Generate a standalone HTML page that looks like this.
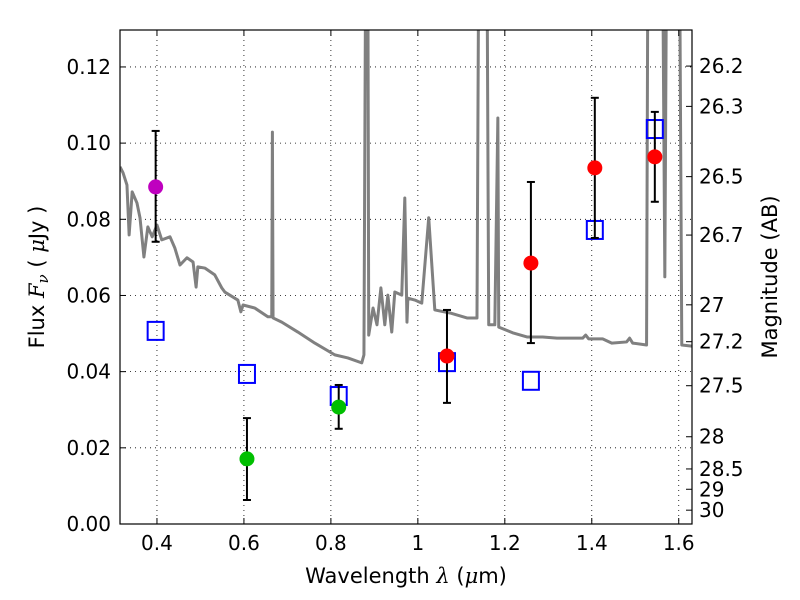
<!DOCTYPE html>
<html><head><meta charset="utf-8"><style>
body{margin:0;background:#fff;}
svg{display:block;font-family:"DejaVu Sans","Liberation Sans",sans-serif;}
</style></head><body>
<svg id="chart" width="800" height="600"></svg>
<script>
const specWave=[0.315,0.322,0.331,0.336,0.343,0.354,0.361,0.370,0.379,0.389,0.400,0.411,0.430,0.441,0.453,0.469,0.483,0.490,0.494,0.510,0.533,0.549,0.556,0.586,0.593,0.598,0.625,0.655,0.664,0.6655,0.667,0.687,0.724,0.763,0.809,0.839,0.871,0.876,0.880,0.885,0.887,0.897,0.906,0.915,0.924,0.931,0.940,0.947,0.963,0.970,0.975,0.977,0.993,1.009,1.025,1.039,1.074,1.113,1.136,1.140,1.159,1.163,1.177,1.184,1.186,1.218,1.251,1.287,1.320,1.379,1.386,1.393,1.425,1.446,1.480,1.487,1.494,1.526,1.529,1.563,1.568,1.572,1.602,1.607,1.630];
const specFlux=[0.0938,0.0922,0.0890,0.0759,0.0872,0.0843,0.0804,0.0701,0.0780,0.0754,0.0785,0.0746,0.0754,0.0725,0.0680,0.0699,0.0688,0.0622,0.0675,0.0672,0.0654,0.0620,0.0609,0.0588,0.0557,0.0575,0.0567,0.0544,0.0544,0.1029,0.0541,0.0530,0.0504,0.0475,0.0444,0.0436,0.0423,0.0444,0.15,0.15,0.0496,0.0567,0.0523,0.0620,0.0523,0.0601,0.0504,0.0609,0.0601,0.0856,0.0530,0.0593,0.0588,0.0580,0.0804,0.0562,0.0554,0.0541,0.0541,0.15,0.15,0.0523,0.0523,0.1066,0.0517,0.0502,0.0491,0.0491,0.0488,0.0488,0.0496,0.0486,0.0486,0.0475,0.0478,0.0488,0.0475,0.0470,0.15,0.15,0.0649,0.15,0.15,0.0470,0.0467];
const obsWave=[0.397,0.607,0.818,1.067,1.260,1.407,1.545];
const obsFlux=[0.0885,0.0171,0.0307,0.0441,0.0685,0.0935,0.0964];
const obsHi=[0.1032,0.0278,0.0365,0.0562,0.0898,0.1119,0.1082];
const obsLo=[0.0741,0.0063,0.0250,0.0318,0.0475,0.0751,0.0846];
const obsColor=["#bf00bf","#00bf00","#00bf00","#ff0000","#ff0000","#ff0000","#ff0000"];
const modelFlux=[0.0507,0.0394,0.0336,0.0425,0.0376,0.0772,0.1037];
const xTicks=[0.4,0.6,0.8,1.0,1.2,1.4,1.6];
const xTickLabels=["0.4","0.6","0.8","1","1.2","1.4","1.6"];
const yTicks=[0,0.02,0.04,0.06,0.08,0.10,0.12];
const yTickLabels=["0.00","0.02","0.04","0.06","0.08","0.10","0.12"];
const magTicks=[26.2,26.3,26.5,26.7,27,27.2,27.5,28,28.5,29,30];

const L=120,R=692,T=30,B=524,xmin=0.315,xmax=1.6305,ymin=0,ymax=0.1297;
const X=v=>L+(v-xmin)/(xmax-xmin)*(R-L);
const Y=v=>B-(v-ymin)/(ymax-ymin)*(B-T);
const NS="http://www.w3.org/2000/svg";
const svg=document.getElementById('chart');
function mk(tag,attrs,parent){const e=document.createElementNS(NS,tag);for(const k in attrs)e.setAttribute(k,attrs[k]);(parent||svg).appendChild(e);return e;}
const defs=mk('defs',{});const cp=mk('clipPath',{id:'clip'},defs);mk('rect',{x:L,y:T,width:R-L,height:B-T},cp);

xTicks.forEach(v=>{const g=mk('line',{x1:X(v),x2:X(v),y1:T,y2:B,stroke:'#000','stroke-width':0.8,'stroke-dasharray':'1,4'});

});
yTicks.forEach(v=>{const g=mk('line',{x1:L,x2:R,y1:Y(v),y2:Y(v),stroke:'#000','stroke-width':0.8,'stroke-dasharray':'1,4'});

});

const sp=mk('polyline',{points:specWave.map((w,i)=>X(w)+','+Y(specFlux[i])).join(' '),fill:'none',stroke:'#808080','stroke-width':3,'stroke-linejoin':'round','clip-path':'url(#clip)'});



modelFlux.forEach((f,i)=>{const r=mk('rect',{x:X(obsWave[i])-8,y:Y(f)-9,width:16,height:18,fill:'none',stroke:'#0000ff','stroke-width':2});

});
obsWave.forEach((w,i)=>{const g=mk('g',{});


const x=X(w);
mk('line',{x1:x,x2:x,y1:Y(obsHi[i]),y2:Y(obsLo[i]),stroke:'#000','stroke-width':2},g);
mk('line',{x1:x-4,x2:x+4,y1:Y(obsHi[i]),y2:Y(obsHi[i]),stroke:'#000','stroke-width':2},g);
mk('line',{x1:x-4,x2:x+4,y1:Y(obsLo[i]),y2:Y(obsLo[i]),stroke:'#000','stroke-width':2},g);
mk('circle',{cx:x,cy:Y(obsFlux[i]),r:7.5,fill:obsColor[i]},g);});

const fr=mk('rect',{x:L,y:T,width:R-L,height:B-T,fill:'none',stroke:'#000','stroke-width':1.2});



xTicks.forEach((v,i)=>{const x=X(v);
mk('line',{x1:x,x2:x,y1:B,y2:B-6,stroke:'#000'});mk('line',{x1:x,x2:x,y1:T,y2:T+6,stroke:'#000'});
const t=mk('text',{x:x,y:B+26,'font-size':20,'text-anchor':'middle'});t.textContent=xTickLabels[i];

});
yTicks.forEach((v,i)=>{const y=Y(v);
mk('line',{x1:L,x2:L+6,y1:y,y2:y,stroke:'#000'});
const t=mk('text',{x:L-9,y:y+7,'font-size':20,'text-anchor':'end'});t.textContent=yTickLabels[i];

});
magTicks.forEach(m=>{const y=Y(Math.pow(10,(23.9-m)/2.5));
mk('line',{x1:R,x2:R-6,y1:y,y2:y,stroke:'#000'});
const t=mk('text',{x:R+7,y:y+7,'font-size':20});t.textContent=String(m);

});
</script>
<svg width="800" height="600" style="position:absolute;left:0;top:0;font-family:'DejaVu Sans','Liberation Sans',sans-serif">
<text x="406" y="583" font-size="21" text-anchor="middle">Wavelength  <tspan font-style="italic" font-family="DejaVu Serif,serif">λ</tspan> (<tspan font-style="italic" font-family="DejaVu Serif,serif">μ</tspan>m)</text>
<text transform="translate(44,277) rotate(-90)" font-size="21" text-anchor="middle">Flux  <tspan font-style="italic" font-family="DejaVu Serif,serif">F<tspan font-size="15" dy="4">ν</tspan></tspan><tspan dy="-4">  (  </tspan><tspan font-style="italic" font-family="DejaVu Serif,serif">μ</tspan>Jy )</text>
<text transform="translate(777,277) rotate(-90)" font-size="21" text-anchor="middle">Magnitude (AB)</text>
</svg>
</body></html>
